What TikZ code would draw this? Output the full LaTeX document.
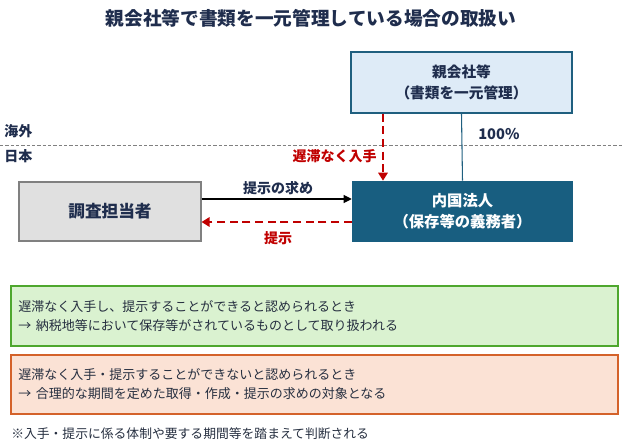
\documentclass[tikz,border=0pt]{standalone}
\usepackage{fontspec}
\setmainfont{Noto Sans CJK JP}
\usetikzlibrary{arrows.meta}
\definecolor{navy}{HTML}{1F2D4D}
\definecolor{txt}{HTML}{262F40}
\definecolor{redc}{HTML}{C00000}
\definecolor{pfill}{HTML}{DEEBF7}
\definecolor{pline}{HTML}{1F5F7F}
\definecolor{corp}{HTML}{185E80}
\definecolor{gfill}{HTML}{E0E0E0}
\definecolor{gline}{HTML}{808080}
\definecolor{grfill}{HTML}{DAF2D0}
\definecolor{grline}{HTML}{4EA72E}
\definecolor{orfill}{HTML}{FBE2D5}
\definecolor{orline}{HTML}{D4622A}
\tikzset{
  px/.style={x=0.75pt,y=-0.75pt},
  titletext/.style={font=\fontsize{14}{16}\selectfont\bfseries, text=navy},
  lbl/.style={font=\fontsize{10.5}{13}\selectfont\bfseries, text=navy, inner sep=0pt},
  redlbl/.style={font=\fontsize{10.5}{13}\selectfont\bfseries, text=redc, inner sep=0pt},
  parentbox/.style={draw=pline, line width=0.8pt, fill=pfill, minimum width=165.75pt, minimum height=45.75pt, align=center, text=navy, font=\fontsize{11}{15.5}\selectfont\bfseries},
  corpbox/.style={fill=corp, minimum width=165.75pt, minimum height=45.75pt, align=center, text=white, font=\fontsize{11.5}{16}\selectfont\bfseries},
  invbox/.style={draw=gline, line width=0.8pt, fill=gfill, minimum width=136.5pt, minimum height=44.25pt, align=center, text=navy, font=\fontsize{12.5}{15}\selectfont\bfseries},
  notebox/.style={line width=0.8pt, minimum width=455.25pt, text width=444pt, inner xsep=5.6pt, align=left, text=txt, font=\fontsize{9.75}{14.25}\selectfont},
  reddash/.style={draw=redc, line width=1.4pt, dash pattern=on 6pt off 3.5pt},
}
\begin{document}
\begin{tikzpicture}[px]
\useasboundingbox (0,0) rectangle (622,443);
\node[titletext] (title) at (311,18) {親会社等で書類を一元管理している場合の取扱い};
\node[parentbox, minimum height=45.75pt] (parent) at (461.5,82.5) {親会社等\\（書類を一元管理）};
\node[corpbox] (corp) at (462.5,211.5) {内国法人\\（保存等の義務者）};
\node[invbox] (inv) at (110,211.5) {調査担当者};
\node[notebox, draw=grline, fill=grfill, minimum height=45pt] (green) at (314.5,316) {遅滞なく入手し、提示することができると認められるとき\\→ 納税地等において保存等がされているものとして取り扱われる};
\node[notebox, draw=orline, fill=orfill, minimum height=44.25pt] (orange) at (314.5,384.5) {遅滞なく入手・提示することができないと認められるとき\\→ 合理的な期間を定めた取得・作成・提示の求めの対象となる};
\node[anchor=west, inner sep=0pt, text=txt, font=\fontsize{9.6}{12}\selectfont] (foot) at (11,434) {※入手・提示に係る体制や要する期間等を踏まえて判断される};
% region labels and border line
\coordinate (bl) at (0,145);
\coordinate (br) at (622,145);
\draw[gline, line width=0.7pt, dash pattern=on 2.5pt off 1.5pt] (bl) -- (br);
\node[lbl, anchor=west] (kaigai) at (4,131) {海外};
\node[lbl, anchor=west] (nihon) at (4,156) {日本};
\node[lbl, anchor=west, font=\fontsize{11}{13}\selectfont\bfseries] (pct) at (478,134) {100\%};
% ownership line
\draw[pline, line width=0.8pt] (parent.south) -- (corp.north);
% delay-free acquisition
\coordinate (rx) at (383,0);
\draw[reddash, -{Triangle[length=6pt,width=7pt]}] (parent.south -| rx) -- (corp.north -| rx);
\node[redlbl, anchor=east] (chitai) at (377,156) {遅滞なく入手};
% request and presentation
\coordinate (ay) at (0,199);
\coordinate (by) at (0,222);
\draw[black, line width=0.8pt, -{Triangle[length=6pt,width=6pt]}] (inv.east |- ay) -- (corp.west |- ay);
\node[lbl] (req) at (278,188) {提示の求め};
\draw[reddash, -{Triangle[length=6pt,width=7pt]}] (corp.west |- by) -- (inv.east |- by);
\node[redlbl] (pres) at (278,238) {提示};
\end{tikzpicture}
\end{document}
